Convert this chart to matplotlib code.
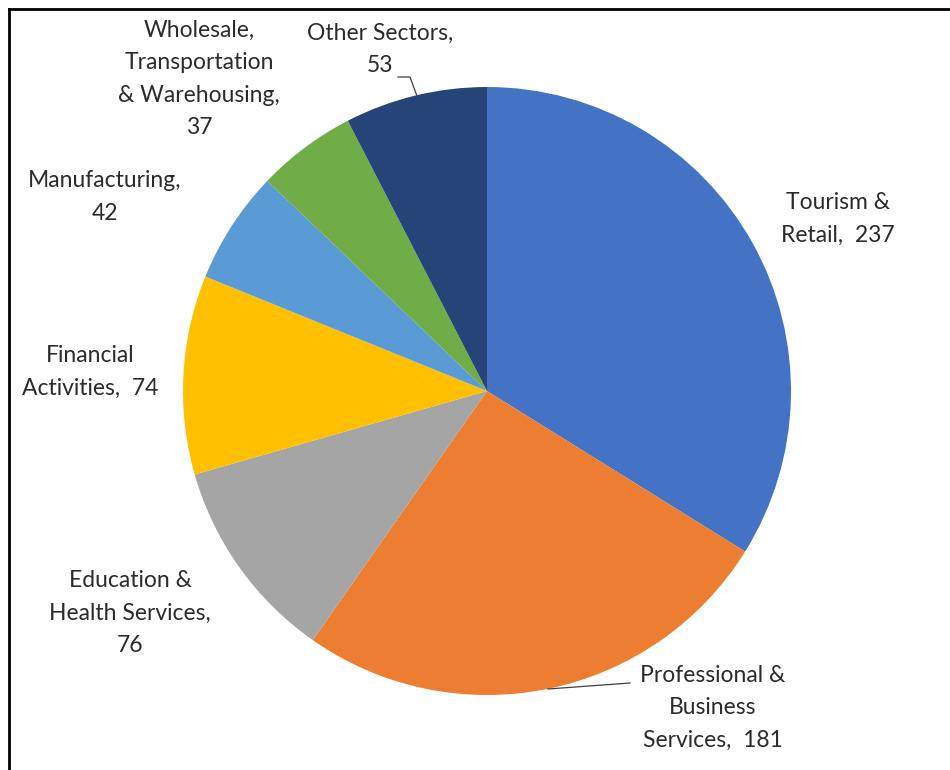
import matplotlib.pyplot as plt

# data
sectors = ['Tourism &\nRetail,', 'Professional &\nBusiness\nServices,',
           'Education &\nHealth Services,\n', 'Financial\nActivities,',
           'Manufacturing,\n', 'Wholesale,\nTransportation\n& Warehousing,\n',
           'Other Sectors,\n']
values = [237, 181, 76, 74, 42, 37, 53]
colors = ['#4472C4', '#ED7D31', '#A5A5A5', '#FFC000', '#5B9BD5', '#70AD47', '#264478']

# label centres in pixel coordinates (x, y from top)
label_pos = [(838, 219), (713, 708), (130, 613), (90, 372), (105, 197), (199, 79), (380, 49)]

W, H = 950, 770
fig = plt.figure(figsize=(W / 100, H / 100), dpi=100)
ax = fig.add_axes([0, 0, 1, 1])

ax.pie(values, colors=colors, startangle=90, counterclock=False,
       center=(487, H - 391), radius=304, frame=True,
       wedgeprops=dict(linewidth=0))
ax.set_xlim(0, W)
ax.set_ylim(0, H)
ax.set_aspect('equal')
ax.axis('off')

for name, val, (x, y) in zip(sectors, values, label_pos):
    sep = '' if name.endswith('\n') else '  '
    ax.text(x, H - y, name + sep + str(val), ha='center', va='center',
            fontsize=16.5, family=['Lato', 'DejaVu Sans'], color='#2b2b2b',
            linespacing=1.66)

# leader lines
ax.plot([398, 410, 417], [H - 77, H - 77, H - 96], color='#404040', lw=0.9)
ax.plot([548, 630], [H - 689, H - 683], color='#404040', lw=0.9)

# frame (left and top only)
ax.plot([9, 9], [0, H - 9], color='black', lw=2)
ax.plot([9, W], [H - 9, H - 9], color='black', lw=2)

fig.savefig('out.png', dpi=100)
